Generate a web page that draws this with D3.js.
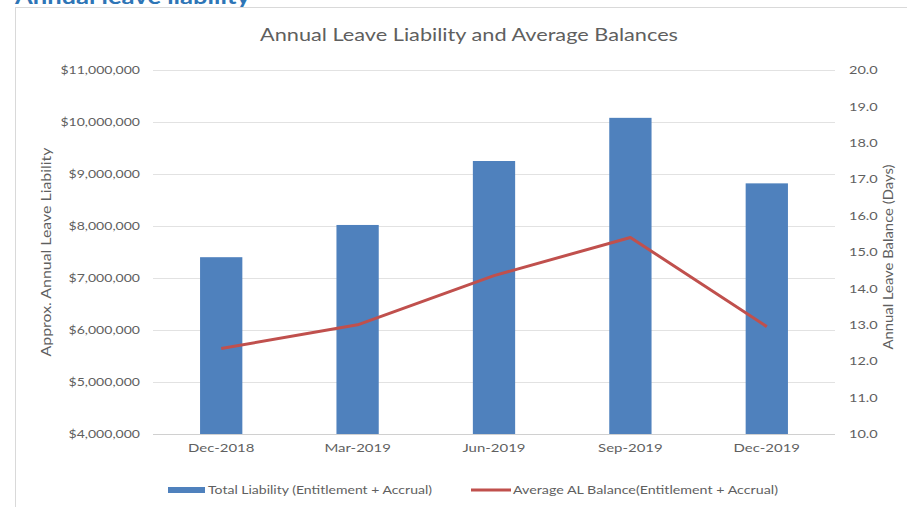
<!DOCTYPE html>
<html>
<head>
<meta charset="utf-8">
<script src="https://cdnjs.cloudflare.com/ajax/libs/d3/7.8.5/d3.min.js"></script>
<style>
  body { margin: 0; background: #fff; }
  svg { display: block; font-family: Lato, "Open Sans", sans-serif; }
</style>
</head>
<body>
<div id="chart"></div>
<script>
"use strict";

// chart data
const periods = ["Dec-2018", "Mar-2019", "Jun-2019", "Sep-2019", "Dec-2019"];
const liability = [7400000, 8020000, 9250000, 10080000, 8820000];
const avgBalance = [12.35, 13.0, 14.35, 15.4, 12.95];
const leftTicks = [4000000, 5000000, 6000000, 7000000, 8000000, 9000000, 10000000, 11000000];
const rightTicks = [10, 11, 12, 13, 14, 15, 16, 17, 18, 19, 20];

const msm = {
    width: 907,
    height: 507,
    left: 153,
    right: 835,
    top: 70,
    bottom: 434
};

const grey = "#5f5f5f";

const svg = d3.select("#chart")
    .append("svg")
    .attr("width", msm.width)
    .attr("height", msm.height);

// the screenshot is a bit wider than tall, so stretch text sideways to match
function stretch(sel, k) {
    sel.each(function () {
        let w = this.getComputedTextLength();
        d3.select(this)
            .attr("textLength", w * k)
            .attr("lengthAdjust", "spacingAndGlyphs");
    });
}

// page heading, cut off at the top like the screenshot
svg.append("text")
    .attr("x", 15)
    .attr("y", 4)
    .attr("textLength", 235)
    .attr("lengthAdjust", "spacingAndGlyphs")
    .style("font-size", "21px")
    .style("font-weight", "bold")
    .attr("fill", "#2E75B6")
    .text("Annual leave liability");

// chart frame
svg.append("rect")
    .attr("x", 15.5)
    .attr("y", 7.5)
    .attr("width", 920)
    .attr("height", 520)
    .attr("fill", "none")
    .attr("stroke", "#d9d9d9");

// scales
let xScale = d3.scaleBand()
    .domain(periods)
    .range([msm.left, msm.right])
    .paddingInner(0.69)
    .paddingOuter(0.345);

let yLeft = d3.scaleLinear()
    .domain([4000000, 11000000])
    .range([msm.bottom, msm.top]);

let yRight = d3.scaleLinear()
    .domain([10, 20])
    .range([msm.bottom, msm.top]);

// gridlines
svg.append("g")
    .selectAll("line")
    .data(leftTicks)
    .enter()
    .append("line")
    .attr("x1", msm.left)
    .attr("x2", msm.right)
    .attr("y1", d => Math.round(yLeft(d)) + 0.5)
    .attr("y2", d => Math.round(yLeft(d)) + 0.5)
    .attr("stroke", d => d === 4000000 ? "#d0d0d0" : "#e2e2e2")
    .attr("stroke-width", 1);

// left axis
let leftAxis = d3.axisLeft(yLeft)
    .tickValues(leftTicks)
    .tickSize(0)
    .tickPadding(13)
    .tickFormat(d => "$" + d3.format(",")(d));
let gl = svg.append("g")
    .attr("transform", "translate(" + msm.left + ",0)")
    .call(leftAxis);
gl.select(".domain").remove();
gl.selectAll("text")
    .style("font-size", "11.5px")
    .style("font-family", "Lato, sans-serif")
    .attr("fill", grey)
    .call(stretch, 1.22);

// right axis
let rightAxis = d3.axisRight(yRight)
    .tickValues(rightTicks)
    .tickSize(0)
    .tickPadding(14)
    .tickFormat(d3.format(".1f"));
let gr = svg.append("g")
    .attr("transform", "translate(" + msm.right + ",0)")
    .call(rightAxis);
gr.select(".domain").remove();
gr.selectAll("text")
    .style("font-size", "11.5px")
    .style("font-family", "Lato, sans-serif")
    .attr("fill", grey)
    .call(stretch, 1.26);

// x axis labels
let xAxis = d3.axisBottom(xScale).tickSize(0).tickPadding(10);
let gx = svg.append("g")
    .attr("transform", "translate(0," + msm.bottom + ")")
    .call(xAxis);
gx.select(".domain").remove();
gx.selectAll("text")
    .style("font-size", "11.5px")
    .style("font-family", "Lato, sans-serif")
    .attr("fill", grey)
    .call(stretch, 1.3);

// bars
svg.append("g")
    .selectAll("rect")
    .data(liability)
    .enter()
    .append("rect")
    .attr("x", (d, i) => xScale(periods[i]))
    .attr("y", d => yLeft(d))
    .attr("width", xScale.bandwidth())
    .attr("height", d => yLeft(4000000) - yLeft(d))
    .attr("fill", "#4F81BD");

// average balance line
let line = d3.line()
    .x((d, i) => xScale(periods[i]) + xScale.bandwidth() / 2)
    .y(d => yRight(d));
svg.append("path")
    .datum(avgBalance)
    .attr("d", line)
    .attr("fill", "none")
    .attr("stroke", "#C0504D")
    .attr("stroke-width", 3)
    .attr("stroke-linejoin", "round");

// title
svg.append("text")
    .attr("x", 469)
    .attr("y", 41)
    .attr("text-anchor", "middle")
    .attr("textLength", 418)
    .attr("lengthAdjust", "spacingAndGlyphs")
    .style("font-size", "17px")
    .attr("fill", grey)
    .text("Annual Leave Liability and Average Balances");

// axis titles
svg.append("text")
    .attr("transform", "translate(51,252) rotate(-90)")
    .attr("text-anchor", "middle")
    .attr("textLength", 209)
    .attr("lengthAdjust", "spacingAndGlyphs")
    .style("font-size", "13px")
    .attr("fill", grey)
    .text("Approx. Annual Leave Liability");

svg.append("text")
    .attr("transform", "translate(893,257) rotate(-90)")
    .attr("text-anchor", "middle")
    .attr("textLength", 185)
    .attr("lengthAdjust", "spacingAndGlyphs")
    .style("font-size", "12.5px")
    .attr("fill", grey)
    .text("Annual Leave Balance (Days)");

// legend
svg.append("rect")
    .attr("x", 168)
    .attr("y", 487)
    .attr("width", 37)
    .attr("height", 6)
    .attr("fill", "#4F81BD");
svg.append("text")
    .attr("x", 208)
    .attr("y", 494)
    .attr("textLength", 224)
    .attr("lengthAdjust", "spacingAndGlyphs")
    .style("font-size", "12px")
    .attr("fill", grey)
    .text("Total Liability (Entitlement + Accrual)");

svg.append("line")
    .attr("x1", 471)
    .attr("x2", 511)
    .attr("y1", 490)
    .attr("y2", 490)
    .attr("stroke", "#C0504D")
    .attr("stroke-width", 3);
svg.append("text")
    .attr("x", 513)
    .attr("y", 494)
    .attr("textLength", 265)
    .attr("lengthAdjust", "spacingAndGlyphs")
    .style("font-size", "12px")
    .attr("fill", grey)
    .text("Average AL Balance(Entitlement + Accrual)");
</script>
</body>
</html>
